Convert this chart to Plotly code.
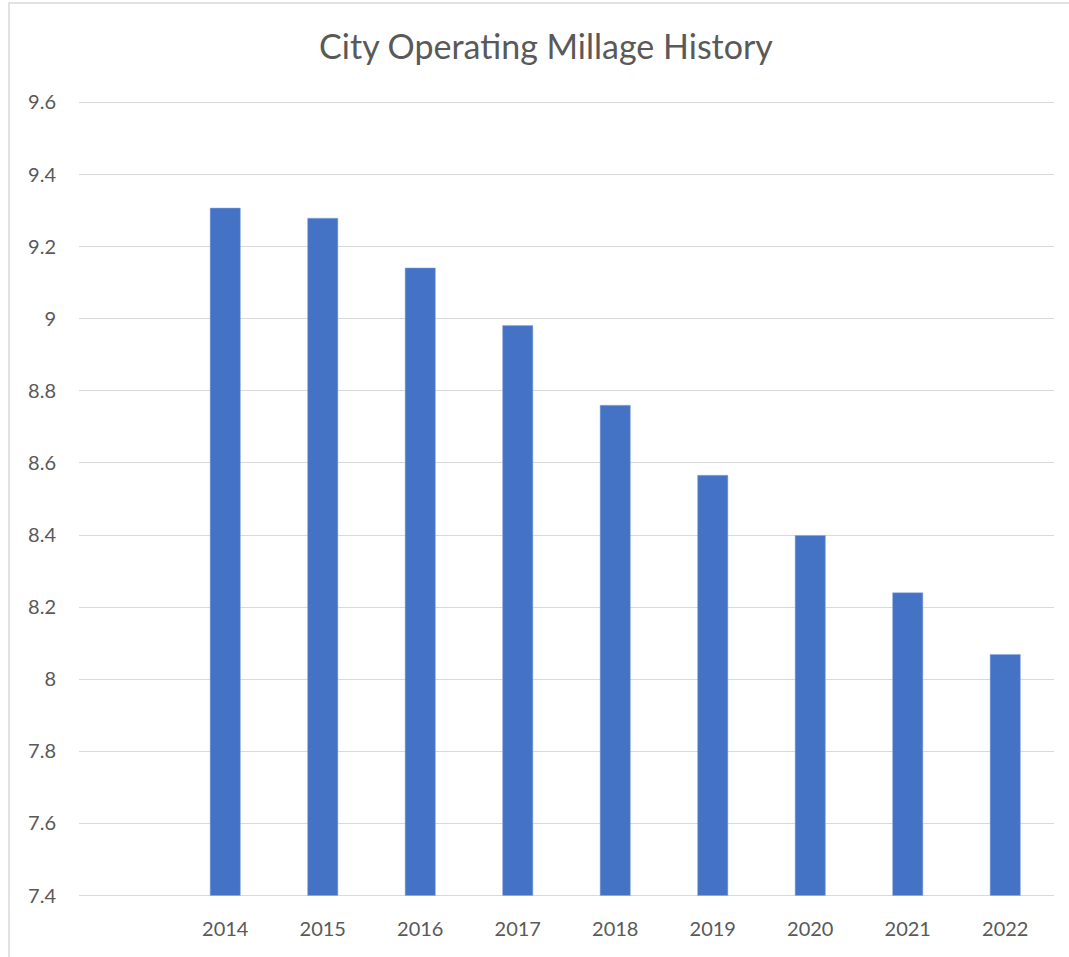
import plotly.graph_objects as go

years = ["2014", "2015", "2016", "2017", "2018", "2019", "2020", "2021", "2022"]
millage = [9.307, 9.279, 9.141, 8.981, 8.760, 8.566, 8.399, 8.240, 8.069]
y_ticks = [7.4, 7.6, 7.8, 8.0, 8.2, 8.4, 8.6, 8.8, 9.0, 9.2, 9.4, 9.6]
y_tick_text = ["7.4", "7.6", "7.8", "8", "8.2", "8.4", "8.6", "8.8", "9", "9.2", "9.4", "9.6"]
y_min, y_max = 7.4, 9.6

W, H = 1069, 957
L, R, T, B = 79, 15, 101, 60
pw, ph = W - L - R, H - T - B

fig = go.Figure(go.Bar(
    x=years, y=[v - y_min for v in millage], base=y_min,
    marker=dict(color="#4472C4", line=dict(color="#8FAADC", width=0.5)),
    customdata=millage, hovertemplate="%{x}: %{customdata}<extra></extra>",
))

fig.update_layout(
    width=W, height=H,
    margin=dict(l=L, r=R, t=T, b=B),
    paper_bgcolor="white", plot_bgcolor="white",
    bargap=0.69,
    showlegend=False,
    font=dict(family="Lato, 'Open Sans', sans-serif", color="#595959"),
    title=dict(text="City Operating Millage History", x=(546 - L) / pw, xanchor="center",
               xref="paper", y=1 - 47 / H, yanchor="middle",
               font=dict(size=34, color="#595959")),
)
fig.update_xaxes(
    type="category", range=[-1.5, 8.5], showgrid=False, showline=False,
    ticks="", tickfont=dict(size=20, color="#595959"), ticklabelstandoff=18,
)
fig.update_yaxes(
    range=[y_min - 0.004, y_max + 0.004], tickvals=y_ticks, ticktext=y_tick_text,
    showgrid=True, gridcolor="#D9D9D9", gridwidth=1,
    zeroline=False, showline=False, ticks="",
    tickfont=dict(size=20, color="#595959"), ticklabelstandoff=22,
)
fig.add_shape(type="rect", xref="paper", yref="paper",
              x0=(9 - L) / pw, x1=1 + (R + 10) / pw,
              y0=-(B + 10) / ph, y1=1 + (T - 3) / ph,
              line=dict(color="#D9D9D9", width=1.5), fillcolor="rgba(0,0,0,0)",
              layer="below")
fig.write_html("out.html", config={"displayModeBar": False},
               post_script="document.body.style.margin='0';document.body.style.overflow='hidden';")
